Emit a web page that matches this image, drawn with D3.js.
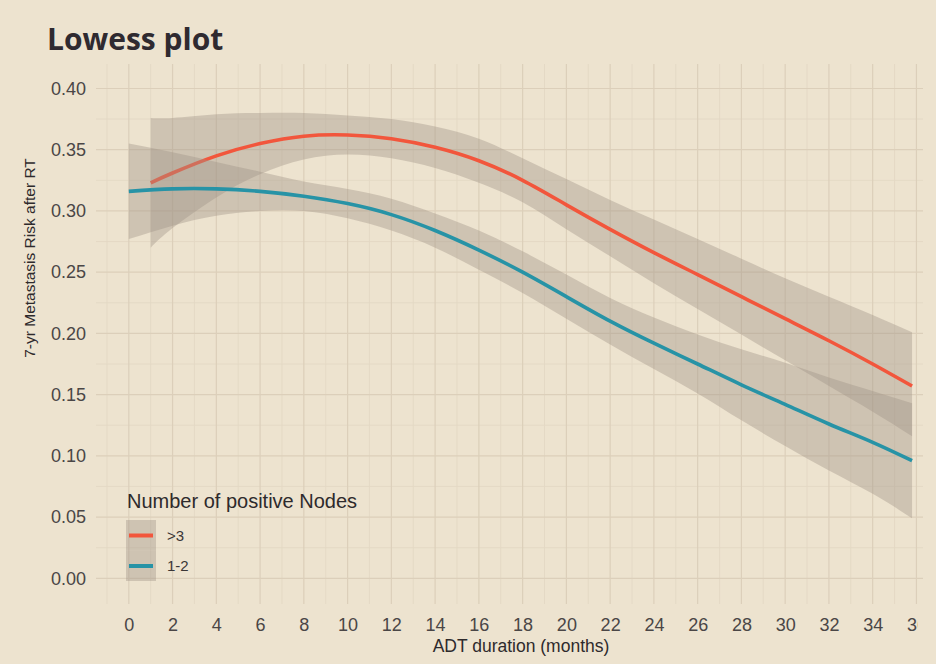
<!DOCTYPE html>
<html>
<head>
<meta charset="utf-8">
<script src="https://cdn.jsdelivr.net/npm/d3@7"></script>
<style>
  body { margin: 0; background: #ede3cf; }
  svg { display: block; }
</style>
</head>
<body>
<div id="chart"></div>
<script>
'use strict';

// ADT duration (months) and lowess fit with 95% band, per group
const monthsHigh = [1, 2, 4, 6, 8, 10, 12, 14, 16, 18, 20, 22, 24, 26, 28, 30, 32, 34, 35.8];
const fitHigh    = [0.323, 0.331, 0.345, 0.355, 0.361, 0.362, 0.359, 0.352, 0.341, 0.325, 0.305, 0.285, 0.266, 0.248, 0.230, 0.212, 0.194, 0.175, 0.157];
const upperHigh  = [0.376, 0.376, 0.379, 0.380, 0.380, 0.378, 0.375, 0.369, 0.359, 0.343, 0.326, 0.309, 0.293, 0.277, 0.261, 0.245, 0.230, 0.215, 0.201];
const lowerHigh  = [0.270, 0.286, 0.311, 0.330, 0.342, 0.346, 0.343, 0.335, 0.323, 0.307, 0.285, 0.263, 0.241, 0.220, 0.199, 0.178, 0.157, 0.136, 0.116];

const monthsLow  = [0, 2, 4, 6, 8, 10, 12, 14, 16, 18, 20, 22, 24, 26, 28, 30, 32, 34, 35.8];
const fitLow     = [0.316, 0.318, 0.318, 0.316, 0.312, 0.306, 0.297, 0.284, 0.268, 0.250, 0.230, 0.210, 0.192, 0.175, 0.158, 0.142, 0.126, 0.111, 0.096];
const upperLow   = [0.355, 0.348, 0.340, 0.332, 0.324, 0.318, 0.310, 0.298, 0.284, 0.267, 0.248, 0.229, 0.213, 0.199, 0.187, 0.176, 0.164, 0.153, 0.143];
const lowerLow   = [0.277, 0.288, 0.296, 0.300, 0.300, 0.294, 0.284, 0.270, 0.252, 0.233, 0.212, 0.191, 0.171, 0.151, 0.129, 0.108, 0.088, 0.069, 0.049];

const groupNames = ['>3', '1-2'];
const groupColors = ['#f2563c', '#2793a6'];

const xTicks = [0, 2, 4, 6, 8, 10, 12, 14, 16, 18, 20, 22, 24, 26, 28, 30, 32, 34, 36];
const xMinor = [-1, 1, 3, 5, 7, 9, 11, 13, 15, 17, 19, 21, 23, 25, 27, 29, 31, 33, 35];
const yTicks = [0, 0.05, 0.10, 0.15, 0.20, 0.25, 0.30, 0.35, 0.40];
const yMinor = [0.025, 0.075, 0.125, 0.175, 0.225, 0.275, 0.325, 0.375];

const width = 936;
const height = 664;
const panel = { left: 96, right: 923, top: 64, bottom: 604 };
const bandFill = '#a09488';
const bandAlpha = 0.4;

const svg = d3.select('#chart').append('svg')
  .attr('width', width)
  .attr('height', height);

svg.append('rect')
  .attr('width', width)
  .attr('height', height)
  .attr('fill', '#ede3cf');

const x = d3.scaleLinear().domain([-1.5, 36.3]).range([panel.left, panel.right]);
const y = d3.scaleLinear().domain([-0.021, 0.42]).range([panel.bottom, panel.top]);

// grid
const grid = svg.append('g');
grid.selectAll('.vmin').data(xMinor).join('line')
  .attr('x1', d => x(d)).attr('x2', d => x(d))
  .attr('y1', panel.top).attr('y2', panel.bottom)
  .attr('stroke', '#e3d8c4').attr('stroke-width', 0.9);
grid.selectAll('.hmin').data(yMinor).join('line')
  .attr('y1', d => y(d)).attr('y2', d => y(d))
  .attr('x1', panel.left).attr('x2', panel.right)
  .attr('stroke', '#e3d8c4').attr('stroke-width', 0.9);
grid.selectAll('.vmaj').data(xTicks).join('line')
  .attr('x1', d => x(d)).attr('x2', d => x(d))
  .attr('y1', panel.top).attr('y2', panel.bottom)
  .attr('stroke', '#dccfba').attr('stroke-width', 1.2);
grid.selectAll('.hmaj').data(yTicks).join('line')
  .attr('y1', d => y(d)).attr('y2', d => y(d))
  .attr('x1', panel.left).attr('x2', panel.right)
  .attr('stroke', '#dccfba').attr('stroke-width', 1.2);

// smooths, drawn group by group like geom_smooth
const groups = [
  { months: monthsHigh, fit: fitHigh, lower: lowerHigh, upper: upperHigh },
  { months: monthsLow, fit: fitLow, lower: lowerLow, upper: upperLow },
];

const area = d3.area()
  .x(d => x(d.m))
  .y0(d => y(d.lo))
  .y1(d => y(d.hi))
  .curve(d3.curveNatural);

const line = d3.line()
  .x(d => x(d.m))
  .y(d => y(d.fit))
  .curve(d3.curveNatural);

groups.forEach((g, i) => {
  const rows = g.months.map((m, j) => ({ m, fit: g.fit[j], lo: g.lower[j], hi: g.upper[j] }));
  svg.append('path')
    .datum(rows)
    .attr('d', area)
    .attr('fill', bandFill)
    .attr('fill-opacity', bandAlpha);
  svg.append('path')
    .datum(rows)
    .attr('d', line)
    .attr('fill', 'none')
    .attr('stroke', groupColors[i])
    .attr('stroke-width', 3.6);
});

// axes
svg.append('defs').append('clipPath').attr('id', 'xclip')
  .append('rect').attr('x', 0).attr('y', -10).attr('width', 918).attr('height', 40);

const xAxis = svg.append('g')
  .attr('transform', `translate(0, ${panel.bottom + 14})`)
  .attr('clip-path', 'url(#xclip)')
  .call(d3.axisBottom(x).tickValues(xTicks).tickSize(0).tickPadding(0));
const yAxis = svg.append('g')
  .attr('transform', `translate(${panel.left - 10}, 0)`)
  .call(d3.axisLeft(y).tickValues(yTicks).tickFormat(d3.format('.2f')).tickSize(0).tickPadding(0));

[xAxis, yAxis].forEach(ax => {
  ax.select('.domain').remove();
  ax.selectAll('text')
    .attr('fill', '#4a4646')
    .style('font-family', '"Liberation Sans", Arial, sans-serif')
    .style('font-size', '18px');
});

svg.append('text')
  .attr('x', 521).attr('y', 652)
  .attr('text-anchor', 'middle')
  .attr('fill', '#2e2a2c')
  .style('font-family', '"Liberation Sans", Arial, sans-serif')
  .style('font-size', '17.5px')
  .text('ADT duration (months)');

svg.append('text')
  .attr('transform', 'translate(35, 258) rotate(-90)')
  .attr('text-anchor', 'middle')
  .attr('fill', '#2e2a2c')
  .style('font-family', '"Liberation Sans", Arial, sans-serif')
  .style('font-size', '15.5px')
  .text('7-yr Metastasis Risk after RT');

// title
svg.append('text')
  .attr('x', 47).attr('y', 50)
  .attr('fill', '#2f2a30')
  .style('font-family', '"Open Sans", sans-serif')
  .style('font-weight', 700)
  .style('font-size', '30px')
  .text('Lowess plot');

// legend
const legend = svg.append('g').attr('transform', 'translate(126, 0)');
legend.append('text')
  .attr('x', 1).attr('y', 508)
  .attr('fill', '#2e2a2c')
  .style('font-family', '"Liberation Sans", Arial, sans-serif')
  .style('font-size', '20px')
  .text('Number of positive Nodes');

groupNames.forEach((name, i) => {
  const ky = 520 + i * 30.5;
  legend.append('rect')
    .attr('x', 0).attr('y', ky)
    .attr('width', 30).attr('height', 30.5)
    .attr('fill', bandFill).attr('fill-opacity', bandAlpha);
  legend.append('line')
    .attr('x1', 3).attr('x2', 27)
    .attr('y1', ky + 15.5).attr('y2', ky + 15.5)
    .attr('stroke', groupColors[i])
    .attr('stroke-width', 4);
  legend.append('text')
    .attr('x', 41).attr('y', ky + 15.5)
    .attr('dy', '0.35em')
    .attr('fill', '#3a3636')
    .style('font-family', '"Liberation Sans", Arial, sans-serif')
    .style('font-size', '15px')
    .text(name);
});
</script>
</body>
</html>
